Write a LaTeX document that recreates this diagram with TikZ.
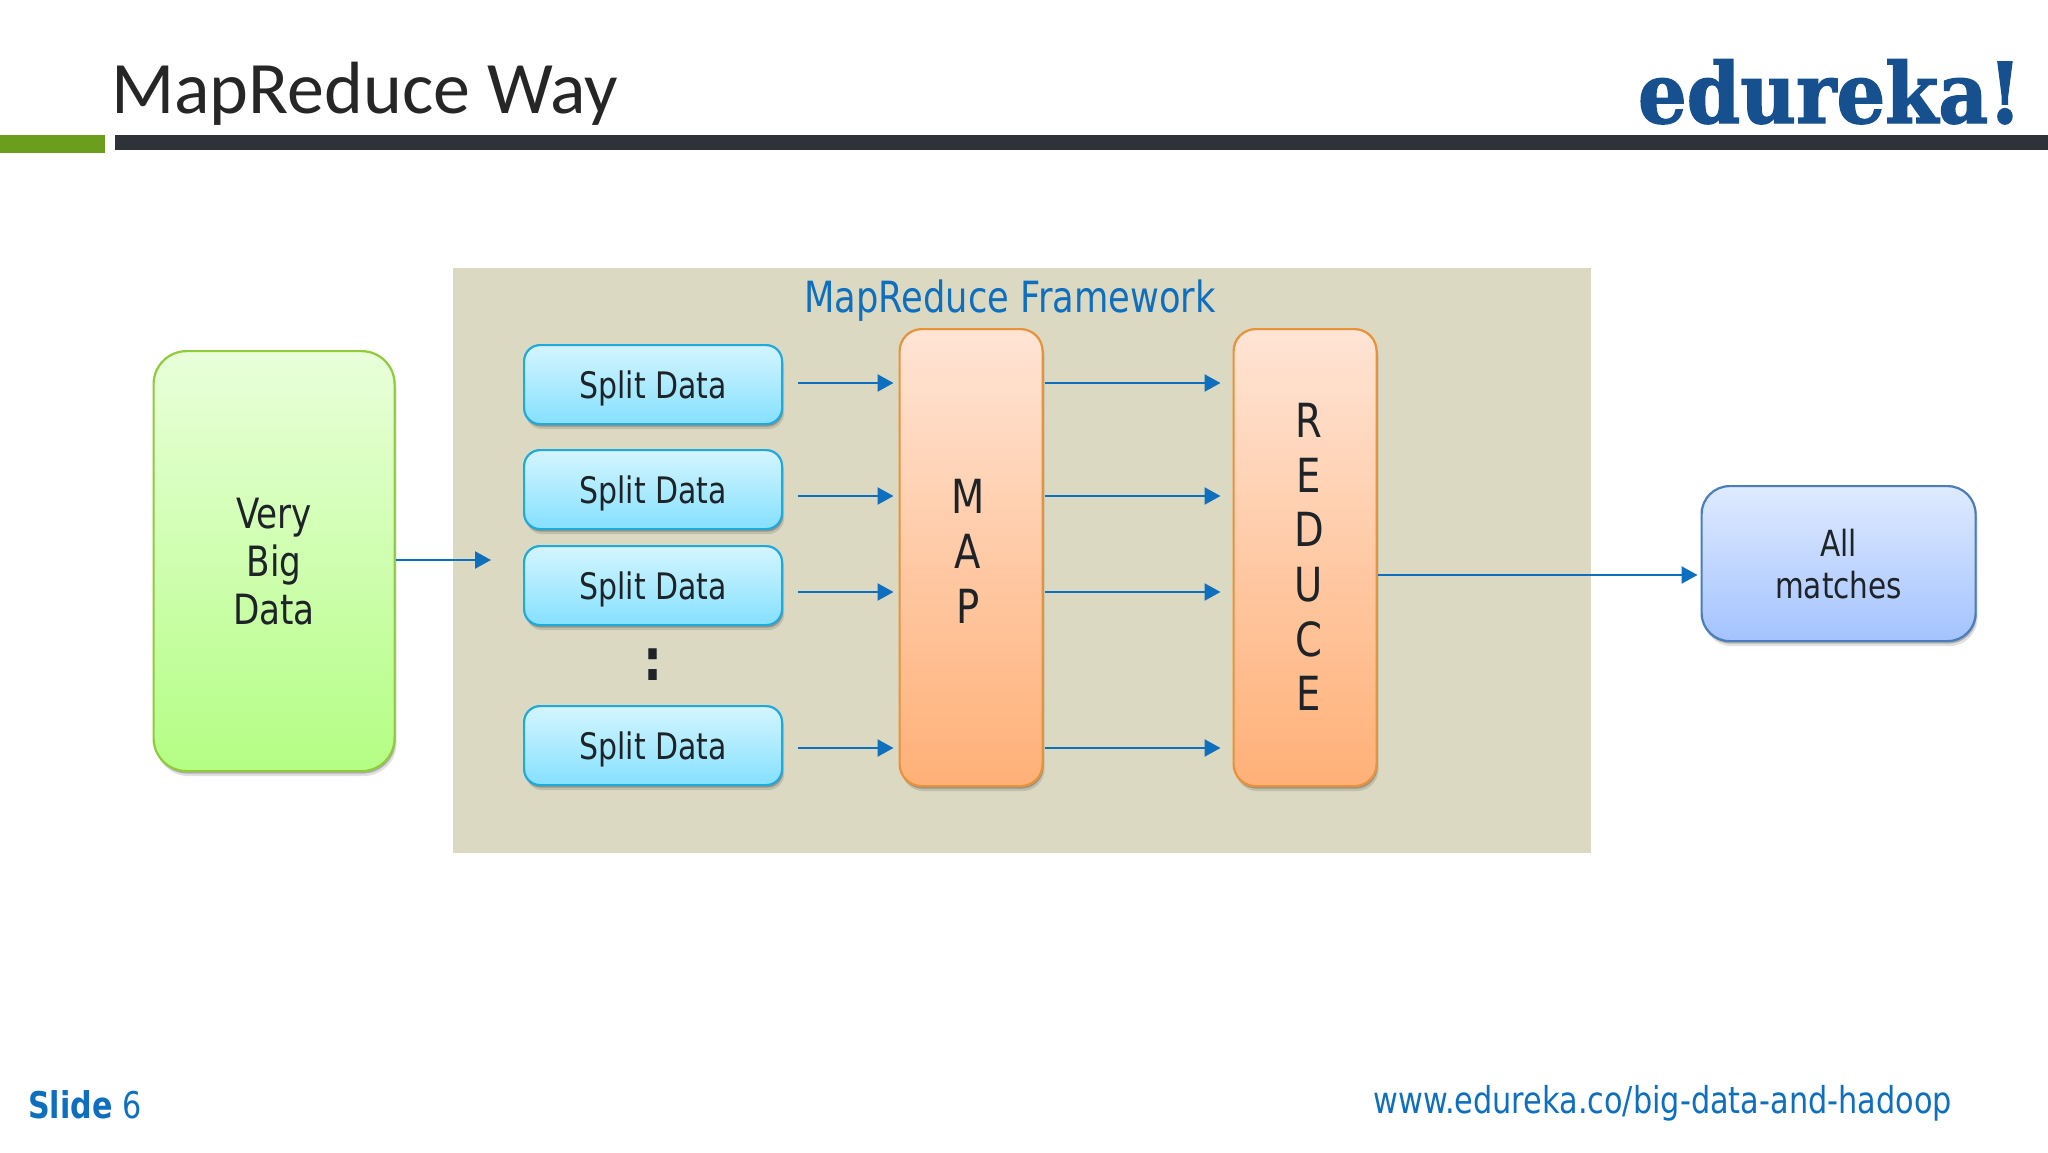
\documentclass[tikz,border=0pt]{standalone}
\usepackage{fontspec}
\setmainfont{DejaVu Sans}[FakeStretch=0.82]
\newfontfamily\titlefont{Carlito}
\newfontfamily\logofont{DejaVu Serif}[FakeStretch=0.913,FakeBold=1.6]
\usetikzlibrary{shadows,arrows.meta}
\definecolor{lnblue}{HTML}{0F6FBF}
\definecolor{frame}{HTML}{DCD9C2}
\definecolor{grnD}{HTML}{8FCB3C}\definecolor{grnT}{HTML}{E9FFDA}\definecolor{grnB}{HTML}{B4FE84}
\definecolor{cyaD}{HTML}{22A9DC}\definecolor{cyaT}{HTML}{D4F5FF}\definecolor{cyaB}{HTML}{85E0FF}
\definecolor{oraD}{HTML}{E8923A}\definecolor{oraT}{HTML}{FFE4D5}\definecolor{oraB}{HTML}{FFB077}
\definecolor{bluD}{HTML}{4A7EBB}\definecolor{bluT}{HTML}{DFEAFF}\definecolor{bluB}{HTML}{A3C3FF}
\definecolor{barG}{HTML}{6A9E1C}\definecolor{barD}{HTML}{2F3238}
\definecolor{ttl}{HTML}{262626}\definecolor{logoc}{HTML}{17508F}\definecolor{ink}{HTML}{1E2328}
\newcommand{\fs}[1]{\fontsize{#1}{#1}\selectfont}
\tikzset{
  x=1pt,y=-1pt,
  box/.style={draw,line width=2.2pt,rounded corners=#1,anchor=north west,inner sep=0pt,align=center,text=ink,
    drop shadow={shadow xshift=1pt,shadow yshift=-2.5pt,opacity=.22,fill=black},
    drop shadow={shadow xshift=2pt,shadow yshift=-5pt,opacity=.12,fill=black}},
  greenbox/.style={box=33pt,draw=grnD,top color=grnT,bottom color=grnB,minimum width=241pt,minimum height=420pt,font=\fs{41.7}},
  splitbox/.style={box=16pt,draw=cyaD,top color=cyaT,bottom color=cyaB,minimum width=258pt,minimum height=79pt,font=\fs{36.5},text depth=0pt},
  orangebox/.style={box=22pt,draw=oraD,top color=oraT,bottom color=oraB,minimum width=143pt,minimum height=457pt},
  bluebox/.style={box=28pt,draw=bluD,top color=bluT,bottom color=bluB,minimum width=274pt,minimum height=155pt,font=\fs{36}},
  arr/.style={draw=lnblue,line width=2.4pt,-{Triangle[length=16pt,width=17pt,fill=lnblue]}},
  stack/.style={font=\fs{47},align=center,inner sep=0pt,text=ink},
}
\begin{document}
\begin{tikzpicture}
\useasboundingbox (0,0) rectangle (2048,1152);
\fill[white] (0,0) rectangle (2048,1152);
% header
\fill[barG] (0,134.5) rectangle (105,153);
\fill[barD] (115,134.5) rectangle (2048,150);
\node[anchor=base west,inner sep=0pt,text=ttl,font=\titlefont\fs{74}] (title) at (111,113) {MapReduce Way};
\node[anchor=base east,inner sep=0pt,text=logoc,font=\logofont\bfseries\fs{84}] (logo) at (2022,123) {edureka!};
% framework
\fill[frame] (453,268) rectangle (1591,853);
\node[text=lnblue,font=\fs{43},inner sep=0pt] (ftitle) at (1010,301) {MapReduce Framework};
% boxes
\node[greenbox] (big) at (152.5,350) {Very\\[6.3pt]Big\\[6.3pt]Data};
\node[splitbox] (s1) at (523,344) {Split Data};
\node[splitbox] (s2) at (523,449) {Split Data};
\node[splitbox] (s3) at (523,545) {Split Data};
\node[splitbox] (s4) at (523,705) {Split Data};
\node[font=\bfseries\fs{58},inner sep=0pt,text=ink] (dots) at (653,665) {:};
\node[orangebox] (map) at (898.5,328) {};
\node[orangebox] (red) at (1232.5,328) {};
\node[stack] (mapt) at (968,551) {M\\[8pt]A\\[8pt]P};
\node[stack] (redt) at (1309,557) {R\\[7.6pt]E\\[7.6pt]D\\[7.6pt]U\\[7.6pt]C\\[7.6pt]E};
\node[bluebox] (all) at (1700.5,485) {All\\[6pt]matches};
% row positions
\coordinate (r1) at (0,383);
\coordinate (r2) at (0,496);
\coordinate (r3) at (0,592);
\coordinate (r4) at (0,748);
\coordinate (rb) at (0,575);
\coordinate (bigend) at (491,560);
% connectors
\draw[arr] (big.east |- bigend) -- (bigend);
\foreach \a/\r in {s1/r1,s2/r2,s3/r3,s4/r4}{
  \draw[arr,shorten <=15pt,shorten >=5pt] (\a.east |- \r) -- (map.west |- \r);
}
\foreach \r in {r1,r2,r3,r4}{
  \draw[arr,shorten <=1pt,shorten >=12pt] (map.east |- \r) -- (red.west |- \r);
}
\draw[arr,shorten >=3pt] (red.east |- rb) -- (all.west |- rb);
% footer
\node[anchor=base west,inner sep=0pt,text=lnblue,font=\fs{36.8}] (slide) at (28,1118) {\textbf{Slide} 6};
\node[anchor=base east,inner sep=0pt,text=lnblue,font=\fs{37}] (url) at (1952,1113) {www.edureka.co/big-data-and-hadoop};
\end{tikzpicture}
\end{document}
